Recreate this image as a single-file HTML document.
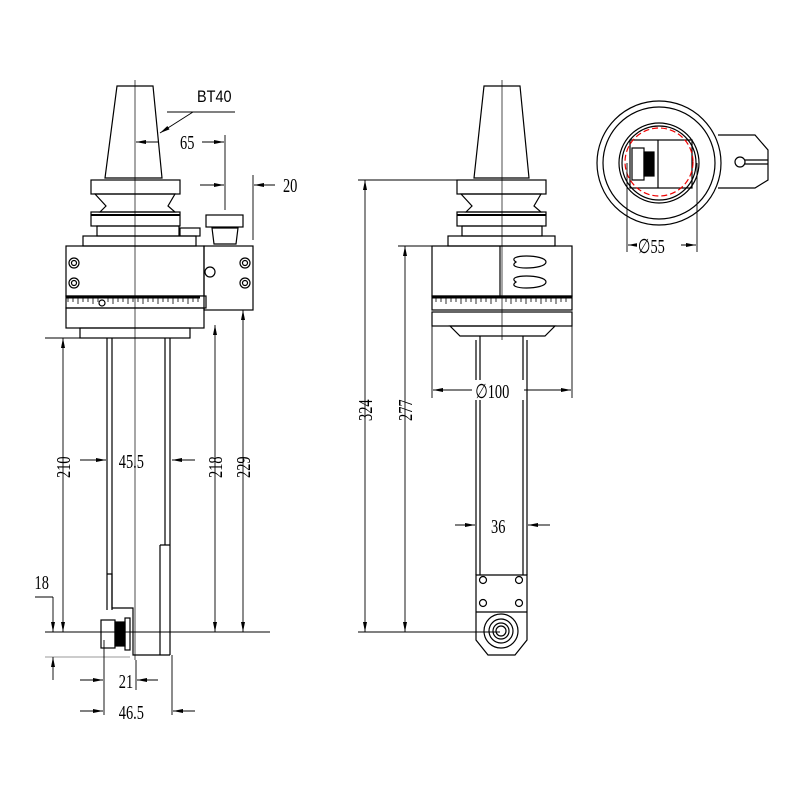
<!DOCTYPE html>
<html><head><style>body{margin:0;background:#fff}svg{display:block}text{font-family:"Liberation Serif",serif;fill:#000}</style></head><body>
<svg width="800" height="800" viewBox="0 0 800 800" xmlns="http://www.w3.org/2000/svg">
<defs>
<marker id="a" viewBox="0 0 10 4" refX="10" refY="2" markerWidth="14" markerHeight="4" orient="auto-start-reverse" markerUnits="userSpaceOnUse"><path d="M0,0L10,2L0,4z" fill="#000"/></marker>
</defs>
<g fill="none" stroke="#000" stroke-width="1.2">
<path d="M117,86L153,86L162,178L105,178Z"/>
<rect x="91" y="180" width="89" height="14"/>
<path d="M95,194L175,194L168,206L175,212L100,212L106,206Z"/>
<rect x="91" y="212" width="89" height="14"/>
<line x1="91" y1="215" x2="180" y2="215" stroke-width="2"/>
<rect x="97" y="226" width="82" height="10"/>
<rect x="83" y="236" width="113" height="10"/>
<rect x="66" y="246" width="138" height="50"/>
<rect x="66" y="296" width="140" height="12" fill="#fff"/>
<line x1="66" y1="297" x2="200" y2="297" stroke-width="3"/>
<rect x="204" y="246" width="49" height="64"/>
<rect x="206" y="215" width="37" height="12"/>
<path d="M212,228L238,228L236,244L214,244Z"/>
<rect x="180" y="228" width="20" height="8"/>
<rect x="66" y="308" width="138" height="20"/>
<rect x="80" y="328" width="110" height="10"/>
<line x1="107" y1="338" x2="107" y2="610"/><line x1="112" y1="338" x2="112" y2="610"/>
<line x1="165" y1="338" x2="165" y2="545"/><line x1="170" y1="338" x2="170" y2="655"/>
<path d="M107,574L112,574L112,608L133,608L133,655L170,655M160,545L170,545M160,545L160,655"/>
<rect x="101" y="620" width="14" height="28"/>
<rect x="115" y="622" width="10" height="24" fill="#000"/>
<rect x="125" y="618" width="5" height="32"/>
<circle cx="74" cy="263" r="5"/><circle cx="74" cy="283" r="5"/><circle cx="245" cy="263" r="5"/><circle cx="245" cy="283" r="5"/>
<circle cx="74" cy="263" r="2.5"/><circle cx="74" cy="283" r="2.5"/><circle cx="245" cy="263" r="2.5"/><circle cx="245" cy="283" r="2.5"/>
<circle cx="210" cy="272" r="5"/><circle cx="102" cy="303" r="3"/>
<path d="M484,86L520,86L529,178L474,178Z"/>
<rect x="457" y="180" width="89" height="14"/>
<path d="M461,194L541,194L534,206L541,212L466,212L472,206Z"/>
<rect x="457" y="212" width="89" height="14"/>
<line x1="457" y1="215" x2="546" y2="215" stroke-width="2"/>
<rect x="462" y="226" width="80" height="10"/>
<rect x="448" y="236" width="107" height="10"/>
<rect x="432" y="246" width="140" height="50"/>
<line x1="500" y1="246" x2="500" y2="296"/>
<rect x="432" y="296" width="140" height="14"/>
<line x1="432" y1="297" x2="572" y2="297" stroke-width="3"/>
<rect x="432" y="312" width="140" height="14"/>
<path d="M450,326L555,326L545,336L460,336Z"/>
<line x1="480" y1="336" x2="480" y2="575"/><line x1="476" y1="340" x2="476" y2="575"/>
<line x1="523" y1="336" x2="523" y2="575"/><line x1="527" y1="340" x2="527" y2="575"/>
<path d="M476,575L527,575L527,640L515,655L488,655L476,640Z"/>
<line x1="476" y1="612" x2="527" y2="612"/>
<circle cx="483" cy="580" r="3.5"/><circle cx="519" cy="580" r="3.5"/><circle cx="483" cy="603" r="3.5"/><circle cx="519" cy="603" r="3.5"/>
<circle cx="501" cy="631" r="17"/><circle cx="501" cy="631" r="12"/><circle cx="501" cy="631" r="8"/><circle cx="501" cy="631" r="5"/>
<path d="M516,262c-12,-8 30,-8 30,0c0,8 -42,8 -30,0Z"/>
<path d="M516,282c-12,-8 30,-8 30,0c0,8 -42,8 -30,0Z"/>
<circle cx="659" cy="163" r="62"/><circle cx="659" cy="163" r="56"/>
<circle cx="659" cy="163" r="40"/><circle cx="659" cy="163" r="37"/>
<path d="M718,135L755,135L768,150L768,180L755,188L718,188"/>
<circle cx="740" cy="162" r="5"/><line x1="745" y1="160" x2="768" y2="160"/><line x1="745" y1="164" x2="768" y2="164"/>
<rect x="630" y="140" width="62" height="48"/>
<rect x="632" y="148" width="12" height="32"/><rect x="644" y="152" width="10" height="24" fill="#000"/>
<line x1="658" y1="140" x2="658" y2="188"/>
<circle cx="659" cy="162" r="34" stroke="#e00" stroke-dasharray="6,3"/>
</g>
<g stroke="#000" stroke-width="0.8">
<path d="M68,302 V298 M73,302 V298 M78,304 V298 M83,302 V298 M88,302 V298 M93,304 V298 M98,302 V298 M108,302 V298 M113,304 V298 M118,302 V298 M123,302 V298 M128,304 V298 M133,302 V298 M138,302 V298 M143,304 V298 M148,302 V298 M153,302 V298 M158,304 V298 M163,302 V298 M168,302 V298 M173,304 V298 M178,302 V298 M183,302 V298 M188,304 V298 M193,302 V298 M198,302 V298"/>
<path d="M436,302 V298 M441,302 V298 M446,304 V298 M451,302 V298 M456,302 V298 M461,304 V298 M466,302 V298 M471,302 V298 M476,304 V298 M481,302 V298 M486,302 V298 M491,304 V298 M496,302 V298 M506,302 V298 M511,304 V298 M516,302 V298 M521,302 V298 M526,304 V298 M531,302 V298 M536,302 V298 M541,304 V298 M546,302 V298 M551,302 V298 M556,304 V298 M561,302 V298 M566,302 V298"/>
</g>
<g stroke="#000" stroke-width="0.9" fill="none">
<line x1="135" y1="80" x2="135" y2="660" stroke-width="0.7"/>
<line x1="502" y1="80" x2="502" y2="340" stroke-width="0.7"/>
<line x1="235" y1="112" x2="167" y2="112"/><line x1="193" y1="112" x2="160" y2="133" marker-end="url(#a)"/>
<line x1="158" y1="142" x2="136" y2="142" marker-end="url(#a)"/><line x1="202" y1="142" x2="224" y2="142" marker-end="url(#a)"/>
<line x1="225" y1="135" x2="225" y2="210"/>
<line x1="200" y1="185" x2="224" y2="185" marker-end="url(#a)"/>
<line x1="253" y1="175" x2="253" y2="240"/><line x1="275" y1="185" x2="254" y2="185" marker-end="url(#a)"/>
<line x1="45" y1="338" x2="110" y2="338"/>
<line x1="63" y1="338" x2="63" y2="632" marker-start="url(#a)" marker-end="url(#a)"/>
<line x1="215" y1="325" x2="215" y2="632" marker-start="url(#a)" marker-end="url(#a)"/>
<line x1="243" y1="310" x2="243" y2="632" marker-start="url(#a)" marker-end="url(#a)"/>
<line x1="45" y1="632" x2="270" y2="632"/>
<line x1="45" y1="657" x2="130" y2="657" stroke="#999"/>
<line x1="35" y1="597" x2="53" y2="597"/>
<line x1="53" y1="597" x2="53" y2="632" marker-end="url(#a)"/>
<line x1="53" y1="680" x2="53" y2="657" marker-end="url(#a)"/>
<line x1="80" y1="460" x2="106" y2="460" marker-end="url(#a)"/><line x1="195" y1="460" x2="172" y2="460" marker-end="url(#a)"/>
<line x1="104" y1="640" x2="104" y2="715"/><line x1="136" y1="660" x2="136" y2="690"/><line x1="172" y1="655" x2="172" y2="715"/>
<line x1="80" y1="680" x2="103" y2="680" marker-end="url(#a)"/><line x1="158" y1="680" x2="137" y2="680" marker-end="url(#a)"/>
<line x1="80" y1="711" x2="103" y2="711" marker-end="url(#a)"/><line x1="195" y1="711" x2="173" y2="711" marker-end="url(#a)"/>
<line x1="358" y1="180" x2="457" y2="180"/><line x1="358" y1="632" x2="500" y2="632"/>
<line x1="398" y1="246" x2="432" y2="246"/>
<line x1="365" y1="180" x2="365" y2="632" marker-start="url(#a)" marker-end="url(#a)"/>
<line x1="405" y1="246" x2="405" y2="632" marker-start="url(#a)" marker-end="url(#a)"/>
<line x1="432" y1="326" x2="432" y2="398"/><line x1="572" y1="326" x2="572" y2="398"/>
<line x1="433" y1="390" x2="571" y2="390" marker-start="url(#a)" marker-end="url(#a)"/>
<line x1="455" y1="525" x2="475" y2="525" marker-end="url(#a)"/><line x1="550" y1="525" x2="528" y2="525" marker-end="url(#a)"/>
<line x1="627" y1="163" x2="627" y2="252"/><line x1="697" y1="163" x2="697" y2="252"/>
<line x1="628" y1="245" x2="696" y2="245" marker-start="url(#a)" marker-end="url(#a)"/>
</g>
<rect x="637" y="234" width="44" height="20" fill="#fff"/>
<rect x="472" y="380" width="52" height="20" fill="#fff"/>
<text x="197" y="102" font-size="17" style="font-family:'Liberation Sans',sans-serif" transform="translate(197,0) scale(0.85,1) translate(-197,0)">BT40</text>
<g font-size="20" transform="scale(0.72,1)">
<text x="250" y="149">65</text>
<text x="393" y="192">20</text>
<text x="165" y="468">45.5</text>
<text x="48" y="589">18</text>
<text x="165" y="688">21</text>
<text x="165" y="719">46.5</text>
<text x="660" y="398">∅100</text>
<text x="682" y="533">36</text>
<text x="886" y="253">∅55</text>
</g>
<g font-size="20">
<text transform="translate(70,478) rotate(-90) scale(0.72,1)">210</text>
<text transform="translate(222,478) rotate(-90) scale(0.72,1)">218</text>
<text transform="translate(250,478) rotate(-90) scale(0.72,1)">229</text>
<text transform="translate(372,421) rotate(-90) scale(0.72,1)">324</text>
<text transform="translate(412,421) rotate(-90) scale(0.72,1)">277</text>
</g>
</svg>
</body></html>
